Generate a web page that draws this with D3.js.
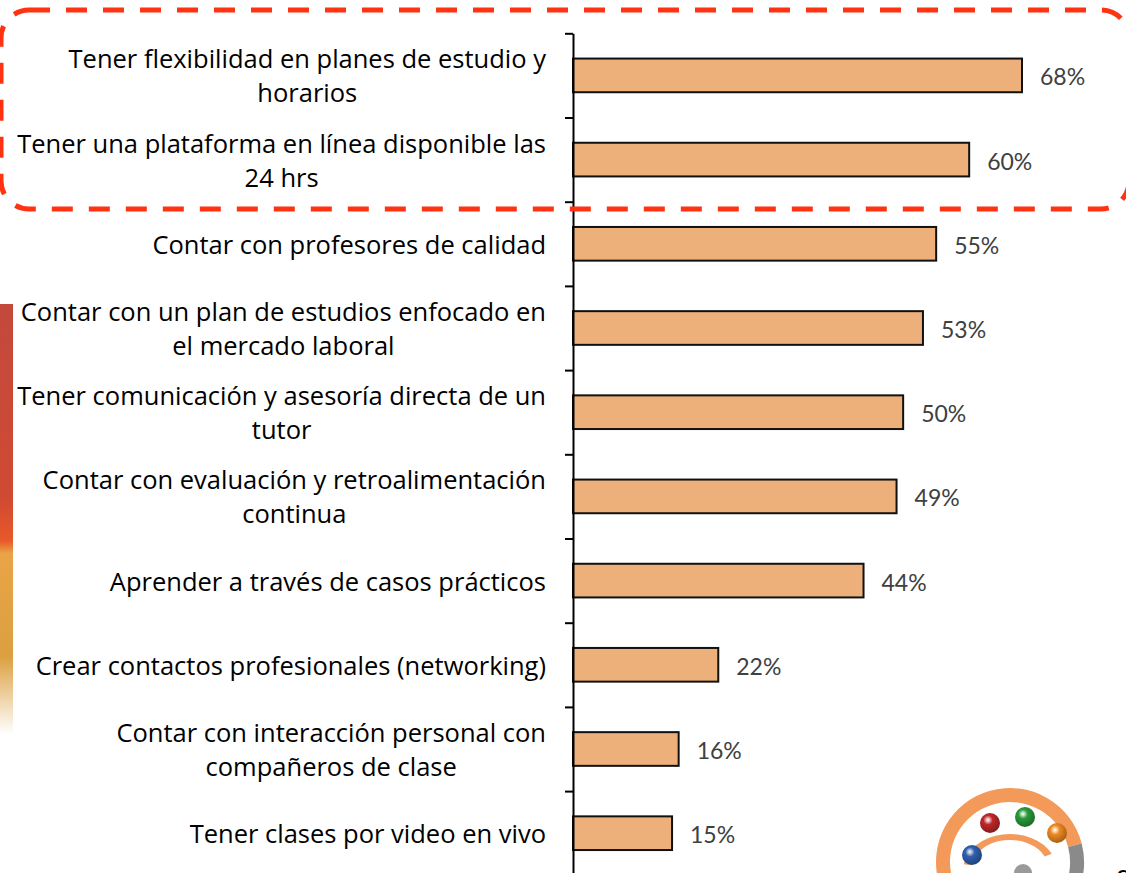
<!DOCTYPE html>
<html>
<head>
<meta charset="utf-8">
<script src="https://cdn.jsdelivr.net/npm/d3@7.9.0/dist/d3.min.js"></script>
<style>
  html, body { margin: 0; padding: 0; background: #fff; }
  svg { display: block; }
</style>
</head>
<body>
<svg id="chart" width="1126" height="873"></svg>
<script>
// categories, top to bottom (line breaks as in the original)
const categories = [
  "Tener flexibilidad en planes de estudio y\nhorarios",
  "Tener una plataforma en línea disponible las\n24 hrs",
  "Contar con profesores de calidad",
  "Contar con un plan de estudios enfocado en\nel mercado laboral",
  "Tener comunicación y asesoría directa de un\ntutor",
  "Contar con evaluación y retroalimentación\ncontinua",
  "Aprender a través de casos prácticos",
  "Crear contactos profesionales (networking)",
  "Contar con interacción personal con\ncompañeros de clase",
  "Tener clases por video en vivo"
];
// percentages
const values = [68, 60, 55, 53, 50, 49, 44, 22, 16, 15];

const axisX = 573;
const plotTop = 33.3, plotBottom = 875.3;

const svg = d3.select("#chart");

// left decorative strip (part of the slide background)
const defs = svg.append("defs");
const grad = defs.append("linearGradient").attr("id", "strip")
  .attr("x1", 0).attr("y1", 0).attr("x2", 0).attr("y2", 1);
[[0, "#c3493d"], [0.45, "#cf4a32"], [0.55, "#e8582a"], [0.58, "#e9a446"], [0.82, "#dba040"], [1, "#ffffff"]]
  .forEach(([o, c]) => grad.append("stop").attr("offset", o).attr("stop-color", c));
svg.append("rect").attr("x", 0).attr("y", 304).attr("width", 13).attr("height", 430)
  .attr("fill", "url(#strip)");

// scales
const x = d3.scaleLinear().domain([0, 100]).range([axisX, axisX + 660.3]);
const y = d3.scaleBand().domain(d3.range(categories.length))
  .range([plotTop, plotBottom]).paddingInner(0.6).paddingOuter(0.3);
const yTicks = d3.scaleLinear().domain([0, categories.length]).range([plotTop, plotBottom]);

// bars
svg.append("g").selectAll("rect")
  .data(values)
  .join("rect")
  .attr("x", x(0))
  .attr("y", (d, i) => y(i))
  .attr("width", d => x(d) - x(0))
  .attr("height", y.bandwidth())
  .attr("fill", "#edb07a")
  .attr("stroke", "#111")
  .attr("stroke-width", 2);

// value labels
svg.append("g").selectAll("text")
  .data(values)
  .join("text")
  .attr("x", d => x(d) + 18)
  .attr("y", (d, i) => y(i) + y.bandwidth() / 2 + 10)
  .attr("font-family", "Lato, 'Open Sans', sans-serif")
  .attr("font-size", 23)
  .attr("fill", "#404040")
  .text(d => d + "%");

// axis with ticks between categories
const axis = svg.append("g")
  .attr("transform", `translate(${axisX},0)`)
  .call(d3.axisLeft(yTicks).tickValues(d3.range(categories.length + 1))
    .tickSize(8).tickSizeOuter(0).tickFormat(""));
axis.select(".domain").attr("stroke", "#000").attr("stroke-width", 2);
axis.selectAll(".tick line").attr("stroke", "#000").attr("stroke-width", 2);

// category labels: block right aligned, lines centred inside the block
const labelRight = 546;
const lineH = 34;
const lab = svg.append("g").attr("font-family", "'Open Sans', Lato, sans-serif")
  .attr("font-size", 25.5).attr("fill", "#000");
categories.forEach((c, i) => {
  const lines = c.split("\n");
  const cy = y(i) + y.bandwidth() / 2;
  const texts = lines.map((l, k) => lab.append("text")
    .attr("y", cy + 10 + (k - (lines.length - 1) / 2) * lineH)
    .attr("text-anchor", "middle")
    .text(l));
  const w = d3.max(texts, t => t.node().getComputedTextLength());
  texts.forEach(t => t.attr("x", labelRight - w / 2));
});

// logo in the bottom-right corner
const logo = svg.append("g").attr("transform", "translate(1010,862)");
logo.append("path")
  .attr("d", d3.arc().innerRadius(60).outerRadius(74)
    .startAngle(-Math.PI * 1.1).endAngle(Math.PI * 0.42)())
  .attr("fill", "#f39a5a");
logo.append("path")
  .attr("d", d3.arc().innerRadius(60).outerRadius(74)
    .startAngle(Math.PI * 0.42).endAngle(Math.PI * 0.65)())
  .attr("fill", "#8a8a8a");
logo.append("path")
  .attr("d", d3.arc().innerRadius(30).outerRadius(36)
    .startAngle(-Math.PI * 0.45).endAngle(Math.PI * 0.35)())
  .attr("transform", "translate(0,8) scale(1.3,1)")
  .attr("fill", "#f39a5a");
logo.append("circle").attr("cx", 13).attr("cy", 11).attr("r", 9).attr("fill", "#9a9a9a");
const balls = [[-38, -7, "#2f5fb0"], [-20, -39, "#c0282a"], [15, -45, "#2a9a3a"], [47, -29, "#ee8a22"]];
balls.forEach(([bx, by, col]) => {
  const g = defs.append("radialGradient").attr("id", "b" + col.slice(1))
    .attr("cx", 0.4).attr("cy", 0.35).attr("r", 0.65);
  g.append("stop").attr("offset", 0).attr("stop-color", "#fff").attr("stop-opacity", 0.8);
  g.append("stop").attr("offset", 0.35).attr("stop-color", col);
  g.append("stop").attr("offset", 1).attr("stop-color", d3.color(col).darker(1));
  logo.append("circle").attr("cx", bx).attr("cy", by).attr("r", 10)
    .attr("fill", `url(#b${col.slice(1)})`);
});
svg.append("text").attr("x", 1116).attr("y", 884)
  .attr("font-family", "Lato, sans-serif").attr("font-size", 26).text("c");

// red dashed highlight around the first two categories
svg.append("rect")
  .attr("x", 1).attr("y", 10).attr("width", 1128).attr("height", 199)
  .attr("rx", 28)
  .attr("fill", "none")
  .attr("stroke", "#ff3311")
  .attr("stroke-width", 5)
  .attr("stroke-dasharray", "21 16");
</script>
</body>
</html>
